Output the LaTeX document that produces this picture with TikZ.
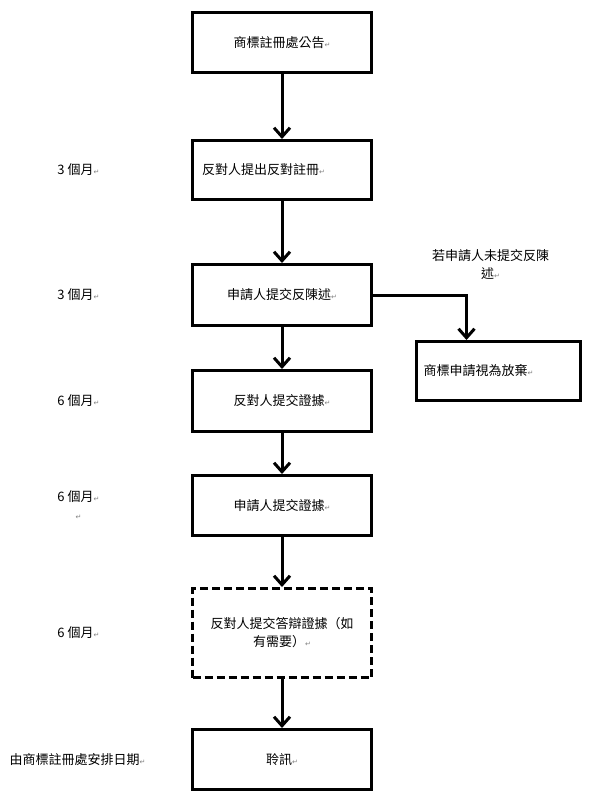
\documentclass[tikz,border=0pt]{standalone}
\usepackage{fontspec}
\setmainfont{Noto Sans CJK TC}
\newfontfamily\markfont{DejaVu Sans}
\usetikzlibrary{arrows.meta,positioning}
\newcommand{\pmk}{{\markfont\fontsize{7}{7}\selectfont\textcolor{gray}{↵}}}

\begin{document}
\begin{tikzpicture}[x=1pt,y=1pt,every node/.style={font=\fontsize{13}{18}\selectfont},box/.style={draw,line width=3pt,minimum width=179pt,minimum height=60pt,align=center},dbox/.style={box,dash pattern=on 8pt off 4pt,minimum height=89pt},lbl/.style={align=center},arr/.style={-{Straight Barb[length=9pt,width=16pt]},line width=3pt}]
\useasboundingbox (0,0) rectangle (608,-798);
\node[box] (notice) at (282,-42.5) {商標註冊處公告\pmk};
\node[box,minimum height=59pt,text width=160pt,align=left,below=65pt of notice] (oppose) {反對人提出反對註冊\pmk};
\node[box,minimum height=61pt,below=62pt of oppose] (counter) {申請人提交反陳述\pmk};
\node[box,minimum height=61pt,below=42pt of counter] (oevid) {反對人提交證據\pmk};
\node[box,below=41pt of oevid] (aevid) {申請人提交證據\pmk};
\node[dbox,below=50pt of aevid] (reply) {反對人提交答辯證據（如\\有需要）\pmk};
\node[box,below=49pt of reply] (hearing) {聆訊\pmk};
\node[box,minimum width=164pt,minimum height=59pt,text width=150pt,align=left,below right=13pt and 42pt of counter] (aband) {商標申請視為放棄\pmk};
\node[lbl,above=57pt of aband,xshift=-8pt] (ifnot) {若申請人未提交反陳\\述\pmk};
\coordinate[left=32pt of aband.north] (drop);
% time limits on the left
\node[lbl,left=88pt of oppose] (t1) {3 個月\pmk};
\node[lbl,left=88pt of counter] (t2) {3 個月\pmk};
\node[lbl,left=88pt of oevid] (t3) {6 個月\pmk};
\node[lbl,left=88pt of aevid] (t4) {6 個月\pmk\\\pmk};
\node[lbl,left=88pt of reply] (t5) {6 個月\pmk};
\node[lbl,left=42pt of hearing] (t6) {由商標註冊處安排日期\pmk};
\draw[arr] (notice)--(oppose);
\draw[arr] (oppose)--(counter);
\draw[arr] (counter)--(oevid);
\draw[arr] (oevid)--(aevid);
\draw[arr] (aevid)--(reply);
\draw[arr] (reply)--(hearing);
\draw[arr] (counter.east) -| (drop);
\end{tikzpicture}
\end{document}
